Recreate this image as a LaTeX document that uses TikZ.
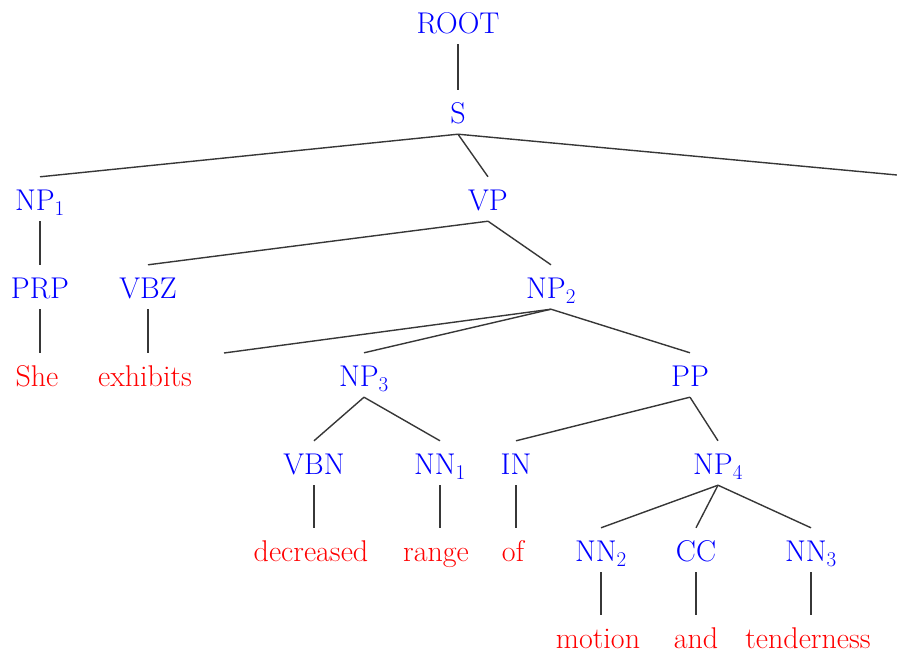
\documentclass[tikz,border=0pt]{standalone}
\definecolor{catblue}{RGB}{0,0,255}
\definecolor{wordred}{RGB}{255,0,0}
\definecolor{edgegray}{RGB}{55,55,55}
\begin{document}
\begin{tikzpicture}[x=1pt,y=-1pt,
  every node/.style={inner sep=0pt, anchor=base, font=\rmfamily\fontsize{30}{36}\selectfont, text height=33pt, text depth=11pt},
  cat/.style={text=catblue},
  wd/.style={text=wordred},
  edge/.style={draw=edgegray, line width=1.4pt}]
\useasboundingbox (0,0) rectangle (897,653);
% categories
\node[cat] (root) at (458,33) {ROOT};
\node[cat] (s) at (458,123) {S};
\node[cat] (np1) at (40,210) {NP\textsubscript{1}};
\node[cat] (vp) at (488,210) {VP};
\node[cat] (prp) at (40,298) {PRP};
\node[cat] (vbz) at (148,298) {VBZ};
\node[cat] (np2) at (551,298) {NP\textsubscript{2}};
\node[cat] (np3) at (364,386) {NP\textsubscript{3}};
\node[cat] (pp) at (690,386) {PP};
\node[cat] (vbn) at (314,474) {VBN};
\node[cat] (nn1) at (440,474) {NN\textsubscript{1}};
\node[cat] (in) at (516,474) {IN};
\node[cat] (np4) at (718,474) {NP\textsubscript{4}};
\node[cat] (nn2) at (601,561) {NN\textsubscript{2}};
\node[cat] (cc) at (696,561) {CC};
\node[cat] (nn3) at (811,561) {NN\textsubscript{3}};
% words
\node[wd] (she) at (37,386) {She};
\node[wd] (exh) at (145,386) {exhibits};
\node[wd] (dec) at (311,561) {decreased};
\node[wd] (range) at (436,561) {range};
\node[wd] (of) at (513,561) {of};
\node[wd] (mot) at (598,648) {motion};
\node[wd] (and) at (696,648) {and};
\node[wd] (ten) at (808,648) {tenderness};
% free ends
\coordinate (sfree) at (897,175);
\coordinate (npfree) at (224,353);
% edges
\draw[edge] (root.south) -- (s.north);
\draw[edge] (s.south) -- (np1.north);
\draw[edge] (s.south) -- (vp.north);
\draw[edge] (s.south) -- (sfree);
\draw[edge] (np1.south) -- (prp.north);
\draw[edge] (vp.south) -- (vbz.north);
\draw[edge] (vp.south) -- (np2.north);
\draw[edge] (prp.south) -- (prp.south |- she.north);
\draw[edge] (vbz.south) -- (vbz.south |- exh.north);
\draw[edge] (np2.south) -- (npfree);
\draw[edge] (np2.south) -- (np3.north);
\draw[edge] (np2.south) -- (pp.north);
\draw[edge] (np3.south) -- (vbn.north);
\draw[edge] (np3.south) -- (nn1.north);
\draw[edge] (pp.south) -- (in.north);
\draw[edge] (pp.south) -- (np4.north);
\draw[edge] (vbn.south) -- (vbn.south |- dec.north);
\draw[edge] (nn1.south) -- (nn1.south |- range.north);
\draw[edge] (in.south) -- (in.south |- of.north);
\draw[edge] (np4.south) -- (nn2.north);
\draw[edge] (np4.south) -- (cc.north);
\draw[edge] (np4.south) -- (nn3.north);
\draw[edge] (nn2.south) -- (nn2.south |- mot.north);
\draw[edge] (cc.south) -- (cc.south |- and.north);
\draw[edge] (nn3.south) -- (nn3.south |- ten.north);
\end{tikzpicture}
\end{document}
